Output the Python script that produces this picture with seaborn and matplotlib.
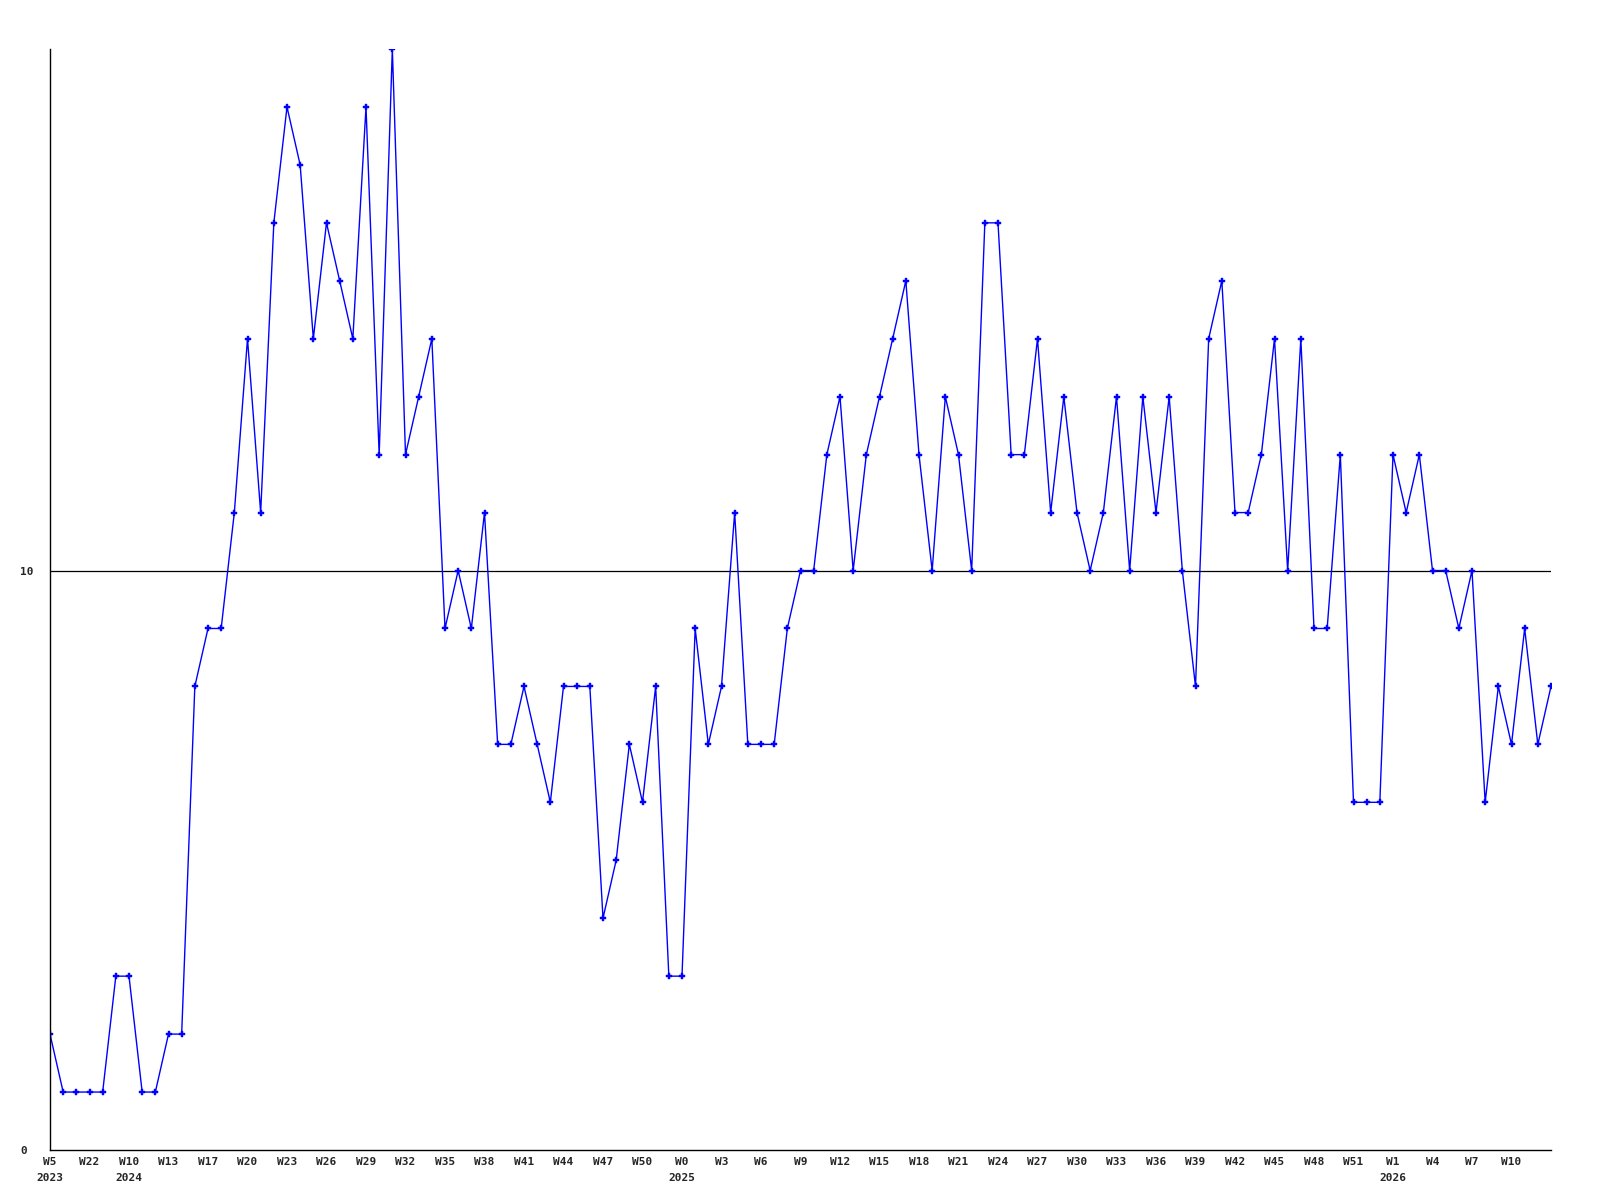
import matplotlib
matplotlib.use("Agg")
import matplotlib.pyplot as plt
import seaborn as sns
import pandas as pd

# weekly values, one per week
values = [2, 1, 1, 1, 1, 3, 3, 1, 1, 2,
          2, 8, 9, 9, 11, 14, 11, 16, 18, 17,
          14, 16, 15, 14, 18, 12, 19, 12, 13, 14,
          9, 10, 9, 11, 7, 7, 8, 7, 6, 8,
          8, 8, 4, 5, 7, 6, 8, 3, 3, 9,
          7, 8, 11, 7, 7, 7, 9, 10, 10, 12,
          13, 10, 12, 13, 14, 15, 12, 10, 13, 12,
          10, 16, 16, 12, 12, 14, 11, 13, 11, 10,
          11, 13, 10, 13, 11, 13, 10, 8, 14, 15,
          11, 11, 12, 14, 10, 14, 9, 9, 12, 6,
          6, 6, 12, 11, 12, 10, 10, 9, 10, 6,
          8, 7, 9, 7, 8]

# one label every third week
tick_labels = ["W5\n2023", "W22", "W10\n2024", "W13", "W17", "W20", "W23", "W26",
               "W29", "W32", "W35", "W38", "W41", "W44", "W47", "W50",
               "W0\n2025", "W3", "W6", "W9", "W12", "W15", "W18", "W21",
               "W24", "W27", "W30", "W33", "W36", "W39", "W42", "W45",
               "W48", "W51", "W1\n2026", "W4", "W7", "W10"]
tick_step = 3
ref_value = 10

df = pd.DataFrame({"week": range(len(values)), "value": values})

sns.set_style("white")
plt.rcParams['font.family'] = ['DejaVu Sans Mono']

fig = plt.figure(figsize=(16, 12), dpi=100)
ax = fig.add_axes([50 / 1600, 50 / 1200, 1501 / 1600, 1101 / 1200])

sns.lineplot(data=df, x="week", y="value", ax=ax, color="#0000ff",
             linewidth=1.0, marker="P", markersize=4.5, markeredgewidth=0.3,
             markeredgecolor="#0000ff")
ax.axhline(ref_value, color="black", linewidth=0.9, zorder=1)

ax.set_xlim(0, len(values) - 1)
ax.set_ylim(0, 19)
ax.set_xticks(list(range(0, len(tick_labels) * tick_step, tick_step)))
ax.set_xticklabels(tick_labels, fontsize=8, fontweight="bold", linespacing=1.75)
ax.set_yticks([0, ref_value])
ax.set_yticklabels(["0", "10"], fontsize=8, fontweight="bold", ha="left")
ax.tick_params(axis="x", length=0, pad=5)
ax.tick_params(axis="y", length=0, pad=21.5)
ax.set_xlabel("")
ax.set_ylabel("")

for side in ["top", "right"]:
    ax.spines[side].set_visible(False)
for side in ["left", "bottom"]:
    ax.spines[side].set_color("black")
    ax.spines[side].set_linewidth(1.0)

fig.savefig("out.png", dpi=100)
